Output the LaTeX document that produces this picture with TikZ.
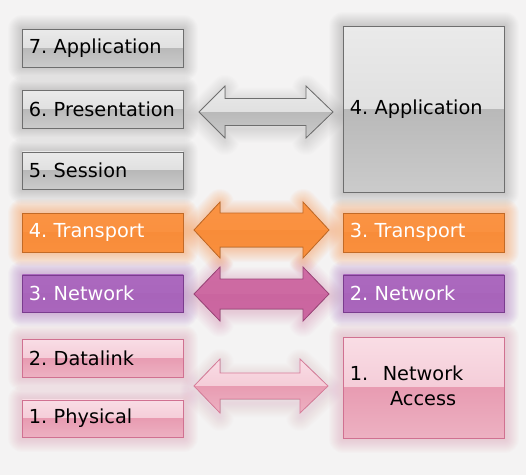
\documentclass[tikz,border=0pt]{standalone}
\usepackage{fontspec}
\setmainfont{DejaVu Sans}
\definecolor{bgc}{HTML}{F4F3F3}
\definecolor{gA}{HTML}{EAEAEA}\definecolor{gB}{HTML}{D6D6D6}\definecolor{gC}{HTML}{B9B9B9}\definecolor{gD}{HTML}{CBCBCB}\definecolor{gE}{HTML}{6E6E6E}
\definecolor{oA}{HTML}{FA9343}\definecolor{oB}{HTML}{F98E3C}\definecolor{oC}{HTML}{F88C39}\definecolor{oD}{HTML}{F98F3D}\definecolor{oE}{HTML}{C26A26}
\definecolor{uA}{HTML}{AB68BE}\definecolor{uB}{HTML}{A966BC}\definecolor{uC}{HTML}{A864BA}\definecolor{uD}{HTML}{A966BC}\definecolor{uE}{HTML}{7A3C8E}
\definecolor{pA}{HTML}{F9DDE5}\definecolor{pB}{HTML}{F0BCCB}\definecolor{pC}{HTML}{E89CB2}\definecolor{pD}{HTML}{EDB1C2}\definecolor{pE}{HTML}{D07191}
\definecolor{mA}{HTML}{CE6BA3}\definecolor{mB}{HTML}{CC68A1}\definecolor{mC}{HTML}{CA659F}\definecolor{mD}{HTML}{CC68A1}\definecolor{mE}{HTML}{9C4579}
\definecolor{aE}{HTML}{D97E9B}
\pgfdeclarelayer{bglayer}\pgfdeclarelayer{glowlayer}
\pgfsetlayers{bglayer,glowlayer,main}
\newcommand\glowit[4]{% color, opacity, yshift, path
  \foreach \w in {2,4,...,28}{\draw[#1, opacity=#2, line width=\w pt, line join=round, yshift=#3] #4;}}
\newcommand\dblarrowpath[7]{% yc, H, S, xl, xr, hl, hr
  (#4,#1) -- (#4+#6,#1-#2) -- (#4+#6,#1-#3) -- (#5-#7,#1-#3) -- (#5-#7,#1-#2) -- (#5,#1)
  -- (#5-#7,#1+#2) -- (#5-#7,#1+#3) -- (#4+#6,#1+#3) -- (#4+#6,#1+#2) -- cycle}
\newcommand\boxfont{\fontsize{19.3}{24}\selectfont\frenchspacing\hyphenpenalty=10000\relax}
\tikzset{
  gloss/.style n args={5}{draw=#5, line width=0.8pt, path picture={
     \fill[top color=#1, bottom color=#2] (path picture bounding box.north west) rectangle (path picture bounding box.east);
     \fill[top color=#3, bottom color=#4] (path picture bounding box.west) rectangle (path picture bounding box.south east);}},
  greyg/.style={gloss={gA}{gB}{gC}{gD}{gE}},
  orangeg/.style={gloss={oA}{oB}{oC}{oD}{oE}},
  purpleg/.style={gloss={uA}{uB}{uC}{uD}{uE}},
  pinkg/.style={gloss={pA}{pB}{pC}{pD}{pE}},
  magentag/.style={gloss={mA}{mB}{mC}{mD}{mE}},
  pinkarrow/.style={gloss={pA}{pB}{pC}{pD}{aE}},
  box/.style={anchor=north west, inner sep=0pt, minimum width=161pt, minimum height=37.5pt,
     text width=148pt, align=left, font=\boxfont},
  darktext/.style={text=black},
  lighttext/.style={text=white},
}
\begin{document}
\begin{tikzpicture}[x=1pt,y=-1pt]
\begin{pgfonlayer}{bglayer}
\fill[bgc] (0,0) rectangle (526,475);
\end{pgfonlayer}
\useasboundingbox (0,0) rectangle (526,475);

% left stack
\node[box, greyg, darktext] (l7) at (22,29) {7. Application};
\node[box, greyg, darktext] (l6) at (22,90) {6. Presentation};
\node[box, greyg, darktext] (l5) at (22,151.5) {5. Session};
\node[box, orangeg, lighttext, minimum height=38.5pt] (l4) at (22,213) {4. Transport};
\node[box, purpleg, lighttext] (l3) at (22,274.5) {3. Network};
\node[box, pinkg, darktext] (l2) at (22,339) {2. Datalink};
\node[box, pinkg, darktext] (l1) at (22,399.5) {1. Physical};

% right stack
\node[box, greyg, darktext, minimum height=166pt] (r4) at (343,26) {4. Application};
\node[box, orangeg, lighttext, minimum height=38.5pt] (r3) at (343,213) {3. Transport};
\node[box, purpleg, lighttext] (r2) at (343,274.5) {2. Network};
\node[box, pinkg, darktext, minimum height=101pt] (r1) at (343,337)
  {\begin{tabular}{@{}l@{\hspace{0.75em}}c@{}}1. & Network\\[1pt] & Access\end{tabular}};

% arrows
\path[greyg] \dblarrowpath{112}{26}{13.5}{199}{333}{26}{27};
\path[orangeg] \dblarrowpath{230}{28}{17}{194}{329}{26}{26};
\path[magentag] \dblarrowpath{294}{27}{15}{194}{329}{26}{26};
\path[pinkarrow] \dblarrowpath{386}{27}{13}{194}{328}{26}{28};

% glows and shadows
\begin{pgfonlayer}{glowlayer}
\foreach \n in {l7,l6,l5,r4}{\glowit{black!70}{0.016}{-5pt}{(\n.north west) rectangle (\n.south east)}}
\foreach \n in {l4,r3}{\glowit{oB}{0.035}{-1pt}{(\n.north west) rectangle (\n.south east)}}
\foreach \n in {l3,r2}{\glowit{uB}{0.035}{-2pt}{(\n.north west) rectangle (\n.south east)}}
\foreach \n in {l2,l1,r1}{\glowit{pC}{0.035}{-6pt}{(\n.north west) rectangle (\n.south east)}}
\glowit{black!60}{0.012}{-3pt}{\dblarrowpath{112}{26}{13.5}{199}{333}{26}{27}}
\glowit{oB}{0.03}{-1pt}{\dblarrowpath{230}{28}{17}{194}{329}{26}{26}}
\glowit{mB}{0.02}{-2pt}{\dblarrowpath{294}{27}{15}{194}{329}{26}{26}}
\glowit{pC}{0.02}{-4pt}{\dblarrowpath{386}{27}{13}{194}{328}{26}{28}}
\end{pgfonlayer}
\end{tikzpicture}
\end{document}
